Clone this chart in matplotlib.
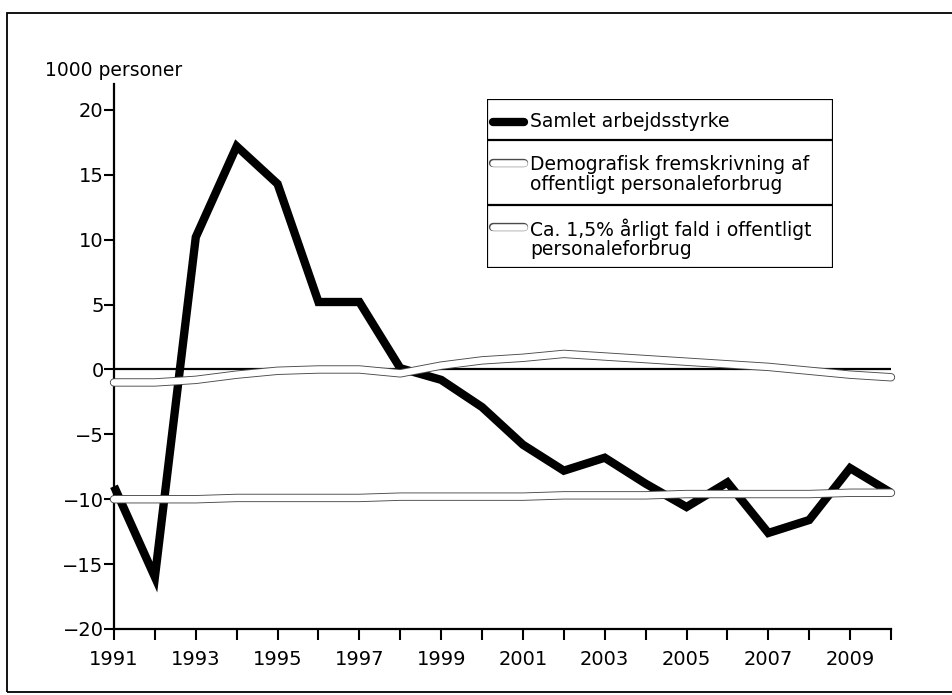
"""Arbejdsstyrke og offentligt personaleforbrug, 1991-2010."""

import matplotlib
matplotlib.use("Agg")  # no display
import matplotlib.pyplot as plt
from matplotlib.patches import Rectangle

# --- data (1000 personer) ---
years = list(range(1991, 2011))
samlet = [-9.0, -16.0, 10.2, 17.2, 14.3, 5.2, 5.2, 0.1, -0.8, -2.9,
          -5.8, -7.8, -6.8, -8.8, -10.6, -8.7, -12.6, -11.6, -7.6, -9.5]
demografisk = [-1.0, -1.0, -0.8, -0.4, -0.1, 0.0, 0.0, -0.3, 0.3, 0.7,
               0.9, 1.2, 1.0, 0.8, 0.6, 0.4, 0.2, -0.1, -0.4, -0.6]
fald_15 = [-10.0, -10.0, -10.0, -9.9, -9.9, -9.9, -9.9, -9.8, -9.8, -9.8,
           -9.8, -9.7, -9.7, -9.7, -9.6, -9.6, -9.6, -9.6, -9.5, -9.5]

series_labels = [
    "Samlet arbejdsstyrke",
    "Demografisk fremskrivning af\noffentligt personaleforbrug",
    "Ca. 1,5% årligt fald i offentligt\npersonaleforbrug",
]
y_ticks = [-20, -15, -10, -5, 0, 5, 10, 15, 20]
x_labelled = list(range(1991, 2010, 2))
y_unit = "1000 personer"

W, H = 952, 695
plt.rcParams["font.family"] = "DejaVu Sans"

fig = plt.figure(figsize=(W / 100, H / 100), dpi=100)

# outer frame of the scanned page
fig.patches.append(Rectangle((7 / W, 3 / H), 1.2, (682 - 3) / H, transform=fig.transFigure,
                             fill=False, edgecolor="black", lw=1.3))

ax = fig.add_axes([114 / W, (H - 629) / H, (891 - 114) / W, 545 / H])
ax.set_xlim(1991, 2010)
ax.set_ylim(-20, 22)

for side in ("top", "right"):
    ax.spines[side].set_visible(False)
for side in ("left", "bottom"):
    ax.spines[side].set_linewidth(1.6)

ax.plot([years[0], years[-1]], [0, 0], color="black", lw=1.6, zorder=2)

ax.plot(years, samlet, color="black", lw=6.0, solid_joinstyle="miter",
        solid_capstyle="butt", zorder=3, clip_on=False)


def outlined(x, y, z):
    # white band with a thin dark edge, like the hollow lines in the original
    ax.plot(x, y, color="#4a4a4a", lw=6.0, solid_capstyle="round", zorder=z, clip_on=False)
    ax.plot(x, y, color="white", lw=4.7, solid_capstyle="round", zorder=z + 0.1, clip_on=False)


outlined(years, demografisk, 4)
outlined(years, fald_15, 5)

ax.set_yticks(y_ticks)
ax.set_xticks(years)
ax.set_xticklabels([str(y) if y in x_labelled else "" for y in years])
ax.tick_params(axis="x", direction="out", length=8, width=1.5, labelsize=14, pad=7)
ax.tick_params(axis="y", direction="out", length=7, width=1.5, labelsize=14, pad=0.5)

fig.text(45 / W, (H - 70) / H, y_unit, fontsize=13.5, ha="left", va="center")

# --- legend box with ruled rows ---
lx0, lx1, ly0, ly1 = 487, 833, 99, 268
lax = fig.add_axes([lx0 / W, (H - ly1) / H, (lx1 - lx0) / W, (ly1 - ly0) / H])
lax.set_xlim(0, lx1 - lx0)
lax.set_ylim(ly1 - ly0, 0)
lax.axis("off")
lax.add_patch(Rectangle((0, 0), lx1 - lx0, ly1 - ly0, fill=False, edgecolor="black", lw=1.6))
for yy in (41, 106):
    lax.plot([0, lx1 - lx0], [yy, yy], color="black", lw=1.6)

rows = [(0, 41), (41, 106), (106, 169)]
handle_y = [23, 64, 128]
for i, (label, (r0, r1), hy) in enumerate(zip(series_labels, rows, handle_y)):
    if i == 0:
        lax.plot([6, 37], [hy, hy], color="black", lw=6.0, solid_capstyle="round")
    else:
        lax.plot([6, 37], [hy, hy], color="#4a4a4a", lw=6.0, solid_capstyle="round")
        lax.plot([6, 37], [hy, hy], color="white", lw=4.7, solid_capstyle="round")
    lax.text(43, (r0 + r1) / 2 + 2, label, fontsize=13.5, ha="left", va="center",
             linespacing=1.0)

fig.savefig("out.png", dpi=100)
plt.close(fig)
